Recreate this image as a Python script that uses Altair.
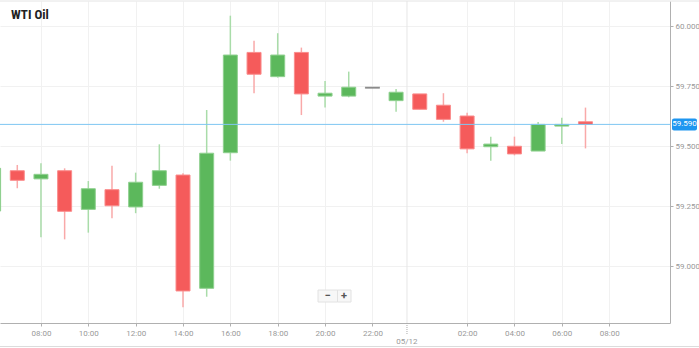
import altair as alt
import pandas as pd

# Hours since 00:00 on 05/11 (24+ = 05/12)
hours = [6, 7, 8, 9, 10, 11, 12, 13, 14, 15, 16, 17, 18, 19, 20, 21, 22, 23,
         24, 25, 26, 27, 28, 29, 30, 31]
opens = [59.229, 59.397, 59.363, 59.397, 59.236, 59.318, 59.246, 59.336, 59.379,
         58.907, 59.472, 59.890, 59.789, 59.890, 59.708, 59.708, 59.743, 59.689,
         59.717, 59.670, 59.625, 59.497, 59.499, 59.479, 59.583, 59.601]
closes = [59.407, 59.357, 59.382, 59.228, 59.322, 59.251, 59.349, 59.397, 58.896,
          59.470, 59.879, 59.799, 59.879, 59.717, 59.720, 59.745, 59.743, 59.724,
          59.653, 59.611, 59.488, 59.508, 59.467, 59.590, 59.590, 59.590]
highs = [59.420, 59.421, 59.428, 59.407, 59.354, 59.418, 59.389, 59.507, 59.386,
         59.650, 60.043, 59.939, 59.970, 59.910, 59.771, 59.810, 59.743, 59.738,
         59.717, 59.720, 59.639, 59.539, 59.539, 59.600, 59.618, 59.660]
lows = [59.210, 59.324, 59.120, 59.111, 59.139, 59.199, 59.220, 59.322, 58.828,
        58.872, 59.439, 59.720, 59.785, 59.629, 59.660, 59.703, 59.743, 59.643,
        59.653, 59.601, 59.470, 59.439, 59.461, 59.479, 59.508, 59.490]

x_ticks = [8, 10, 12, 14, 16, 18, 20, 22, 26, 28, 30, 32]
y_ticks = [59.0, 59.25, 59.5, 59.75, 60.0]
date_label = "05/12"
date_pos = 23.46
last_price = 59.59
title = "WTI Oil"

dirs = ["up" if c > o else ("down" if c < o else "flat") for o, c in zip(opens, closes)]
df = pd.DataFrame({"h": hours, "open": opens, "close": closes,
                   "high": highs, "low": lows, "dir": dirs})

xdom = [6.27, 34.57]
ydom = [58.7625, 60.1042]
xs = alt.Scale(domain=xdom, nice=False, zero=False, padding=0)
ys = alt.Scale(domain=ydom, nice=False, zero=False, padding=0)

body_col = alt.Scale(domain=["up", "down", "flat"], range=["#5cb85c", "#f55b5b", "#8a8a8a"])
edge_col = alt.Scale(domain=["up", "down", "flat"], range=["#8fd08f", "#fa8c8c", "#8a8a8a"])
wick_col = alt.Scale(domain=["up", "down", "flat"], range=["#a9dca9", "#f9a9a9", "#8a8a8a"])

base = alt.Chart(df)

grid = alt.Chart(pd.DataFrame({"h": [xdom[0]]})).mark_point(opacity=0).encode(
    x=alt.X("h:Q", scale=xs, axis=alt.Axis(
        values=x_ticks, title=None, grid=True, gridColor="#f1f1f1",
        labelExpr="(datum.value % 24 < 10 ? '0' : '') + (datum.value % 24) + ':00'",
        labelFontSize=8, labelColor="#999", labelFont="Roboto",
        domainColor="#b0b0b0", tickColor="#b0b0b0", tickSize=3, labelPadding=3)),
    y=alt.Y("v:Q", scale=ys, axis=alt.Axis(
        orient="right", values=y_ticks, format=".3f", title=None, grid=True,
        gridColor="#f1f1f1", labelFontSize=8, labelColor="#999", labelFont="Roboto",
        domainColor="#b0b0b0", tickColor="#b0b0b0", tickSize=3, labelPadding=2)),
).transform_calculate(v=str(ydom[0]))

date_df = pd.DataFrame({"h": [date_pos], "label": [date_label]})
date_grid = alt.Chart(date_df).mark_rule(color="#e6e6e6", strokeWidth=1).encode(
    x=alt.X("h:Q", scale=xs), y=alt.value(0), y2=alt.value(322))
date_tick = alt.Chart(date_df).mark_rule(color="#aaa", strokeWidth=1, strokeDash=[1, 1]).encode(
    x=alt.X("h:Q", scale=xs), y=alt.value(322), y2=alt.value(333))
date_text = alt.Chart(date_df).mark_text(fontSize=8, color="#999", font="Roboto", baseline="middle").encode(
    x=alt.X("h:Q", scale=xs), y=alt.value(341), text="label:N")

wicks = base.mark_rule(strokeWidth=1.5).encode(
    x=alt.X("h:Q", scale=xs), y=alt.Y("low:Q", scale=ys), y2="high:Q",
    color=alt.Color("dir:N", scale=wick_col, legend=None))

bodies = base.mark_bar(size=14, strokeWidth=1).encode(
    x=alt.X("h:Q", scale=xs), y=alt.Y("open:Q", scale=ys), y2="close:Q",
    fill=alt.Fill("dir:N", scale=body_col, legend=None),
    stroke=alt.Stroke("dir:N", scale=edge_col, legend=None))

flat = base.transform_filter("datum.dir == 'flat'").mark_tick(
    orient="horizontal", size=15, thickness=2, color="#8a8a8a").encode(
    x=alt.X("h:Q", scale=xs), y=alt.Y("open:Q", scale=ys))

price_df = pd.DataFrame({"p": [last_price], "t": [f"{last_price:.3f}"]})
price_line = alt.Chart(price_df).mark_rule(color="#7fc6f2", strokeWidth=1).encode(
    y=alt.Y("p:Q", scale=ys), x=alt.value(0), x2=alt.value(670))
price_box = alt.Chart(price_df).mark_tick(
    orient="horizontal", size=25, thickness=12, color="#1e96f0", opacity=1,
    cornerRadius=2).encode(y=alt.Y("p:Q", scale=ys), x=alt.value(684.5))
price_text = alt.Chart(price_df).mark_text(
    fontSize=8, color="white", font="Roboto", align="center", baseline="middle").encode(
    y=alt.Y("p:Q", scale=ys), x=alt.value(684.5), text="t:N")

title_mark = alt.Chart(pd.DataFrame({"t": [title]})).mark_text(
    fontSize=13, fontWeight="bold", color="#222", font="Liberation Sans Narrow, Roboto Condensed, Roboto",
    align="left", baseline="middle").encode(x=alt.value(11), y=alt.value(14), text="t:N")

top_line = alt.Chart(pd.DataFrame({"a": [0]})).mark_rule(color="#e4e4e4").encode(
    x=alt.value(0), x2=alt.value(699), y=alt.value(0))
bottom_line = alt.Chart(pd.DataFrame({"a": [0]})).mark_rule(color="#dcdcdc").encode(
    x=alt.value(0), x2=alt.value(699), y=alt.value(345.5))

btn_df = pd.DataFrame({"x1": [318, 337.5], "x2": [337.5, 351], "t": ["−", "+"], "xc": [327.5, 344]})
btn_box = alt.Chart(btn_df).mark_rect(fill="#f7f7f7", stroke="#e2e2e2", strokeWidth=1).encode(
    x=alt.X("x1:Q", scale=None), x2="x2:Q", y=alt.value(289), y2=alt.value(301))
btn_txt = alt.Chart(btn_df).mark_text(fontSize=11, fontWeight="bold", color="#555", font="Roboto",
                                      baseline="middle").encode(
    x=alt.X("xc:Q", scale=None), y=alt.value(295), text="t:N")

chart = alt.layer(
    grid, date_grid, date_tick, date_text, wicks, bodies, flat,
    price_line, price_box, price_text, title_mark, top_line, bottom_line,
    btn_box, btn_txt
).properties(
    width=670, height=322,
    autosize=alt.AutoSizeParams(type="none"),
    padding={"left": 0, "top": 1, "right": 29, "bottom": 25},
    background="white",
).configure_view(stroke=None)

chart.save("out.html", embed_options={"renderer": "svg", "actions": False})
